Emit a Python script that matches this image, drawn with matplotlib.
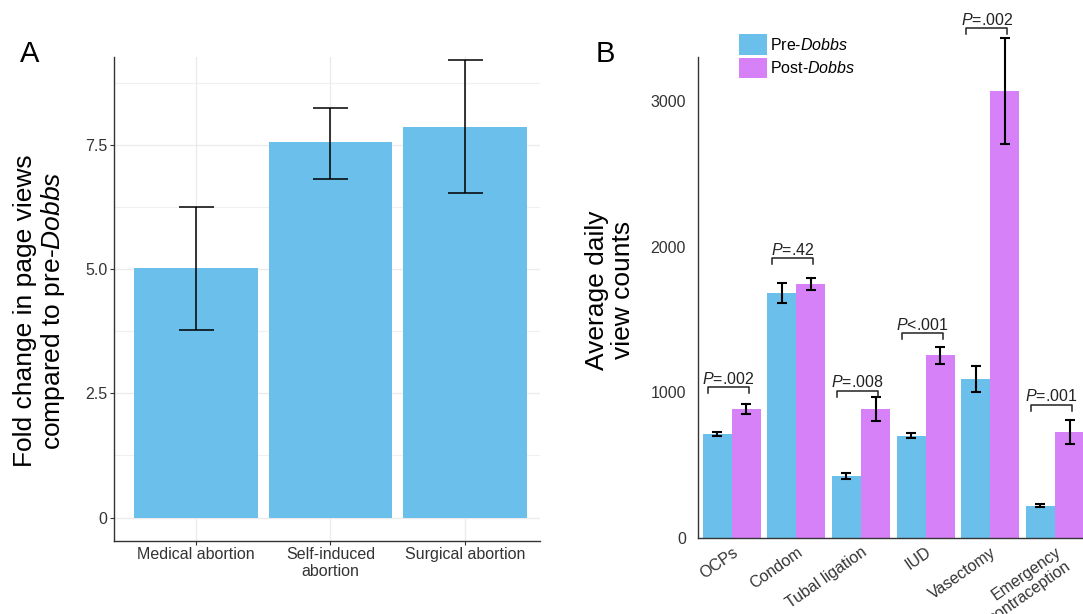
import matplotlib
matplotlib.use("Agg")
import matplotlib.pyplot as plt
import numpy as np
from matplotlib.ticker import FixedLocator

plt.rcParams['font.family'] = ['Liberation Sans', 'DejaVu Sans']
plt.rcParams['mathtext.fontset'] = 'custom'
plt.rcParams['mathtext.rm'] = 'Liberation Sans'
plt.rcParams['mathtext.it'] = 'Liberation Sans:italic'

# ---------------- Panel A data ----------------
a_categories = ["Medical abortion", "Self-induced\nabortion", "Surgical abortion"]
a_fold = [5.02, 7.56, 7.87]
a_lower = [3.77, 6.82, 6.53]
a_upper = [6.26, 8.25, 9.21]
a_yticks = [0, 2.5, 5.0, 7.5]
a_yticklabels = ["0", "2.5", "5.0", "7.5"]
a_minor_grid = [1.25, 3.75, 6.25, 8.75]

# ---------------- Panel B data ----------------
b_categories = ["OCPs", "Condom", "Tubal ligation", "IUD", "Vasectomy",
                "Emergency\ncontraception"]
b_pre = [712, 1681, 423, 700, 1090, 220]
b_pre_err = [15, 67, 20, 17, 88, 11]
b_post = [884, 1742, 884, 1252, 3070, 724]
b_post_err = [37, 39, 82, 60, 365, 83]
b_p_labels = ["P=.002", "P=.42", "P=.008", "P<.001", "P=.002", "P=.001"]
b_bracket_y = [1032, 1918, 1007, 1404, 3499, 911]
b_yticks = [0, 1000, 2000, 3000]
b_series = ["Pre-Dobbs", "Post-Dobbs"]

BLUE = "#6BBFEB"
PURPLE = "#D681F8"
DARK = "#333333"

W, H = 1083, 614
fig = plt.figure(figsize=(W / 100, H / 100), dpi=100)


def rect(l, t, r, b):
    return [l / W, 1 - b / H, (r - l) / W, (b - t) / H]


# ================= Panel A =================
axA = fig.add_axes(rect(114, 56.7, 540, 540.7))
xa = np.arange(len(a_categories))
axA.bar(xa, a_fold, width=0.92, color=BLUE, zorder=2)
fold = np.array(a_fold)
yerr = [fold - np.array(a_lower), np.array(a_upper) - fold]
axA.errorbar(xa, a_fold, yerr=yerr, fmt='none', ecolor='black',
             elinewidth=1.1, capsize=12.6, capthick=1.1, zorder=3)
axA.set_xlim(-0.61, 2.56)
axA.set_ylim(-0.467, 9.28)
axA.set_yticks(a_yticks)
axA.set_yticklabels(a_yticklabels)
axA.yaxis.set_minor_locator(FixedLocator(a_minor_grid))
axA.set_xticks(xa)
axA.set_xticklabels(a_categories, linespacing=1.15)
axA.set_axisbelow(True)
axA.grid(True, which='major', color='#EBEBEB', lw=1.0)
axA.grid(True, which='minor', axis='y', color='#F0F0F0', lw=0.8)
for s in ['top', 'right']:
    axA.spines[s].set_visible(False)
for s in ['left', 'bottom']:
    axA.spines[s].set_color(DARK)
    axA.spines[s].set_linewidth(1.0)
axA.tick_params(axis='both', which='major', length=2.75, width=0.8,
                color=DARK, labelcolor=DARK, labelsize=11.5, pad=2)
axA.tick_params(which='minor', length=0)

fig.text(40 / W, 1 - 311 / H,
         "Fold change in page views\ncompared to pre-$\\mathit{Dobbs}$",
         rotation=90, ha='center', va='center', fontsize=19, linespacing=1.1)
fig.text(20 / W, 1 - 62 / H, "A", fontsize=21, ha='left', va='baseline')

# ================= Panel B =================
axB = fig.add_axes(rect(698.3, 57.3, 1083, 537.7))
xb = np.arange(len(b_categories))
w = 0.45
lab_pre = b_series[0].split('-')[0] + "-$\\mathit{" + b_series[0].split('-')[1] + "}$"
lab_post = b_series[1].split('-')[0] + "-$\\mathit{" + b_series[1].split('-')[1] + "}$"
axB.bar(xb - w / 2, b_pre, w, color=BLUE, label=lab_pre, zorder=2)
axB.bar(xb + w / 2, b_post, w, color=PURPLE, label=lab_post, zorder=2)
for xs, vals, errs in [(xb - w / 2, b_pre, b_pre_err), (xb + w / 2, b_post, b_post_err)]:
    eb = axB.errorbar(xs, vals, yerr=errs, fmt='none', ecolor='black',
                      elinewidth=1.5, capsize=3.5, capthick=1.5, zorder=3)
    for art in eb.get_children():
        art.set_clip_on(False)

axB.set_xlim(-0.517, 5.433)
axB.set_ylim(0, 3300)
axB.set_yticks(b_yticks)
axB.set_yticklabels([str(v) for v in b_yticks])
axB.set_xticks(xb)
axB.set_xticklabels(b_categories, rotation=35, ha='right', va='top',
                    rotation_mode='anchor', linespacing=1.2)
for s in ['top', 'right']:
    axB.spines[s].set_visible(False)
for s in ['left', 'bottom']:
    axB.spines[s].set_color(DARK)
    axB.spines[s].set_linewidth(1.0)
axB.tick_params(axis='y', length=0, labelsize=11.5, labelcolor=DARK, pad=8.9)
axB.tick_params(axis='x', length=0, labelsize=11.5, labelcolor=DARK, pad=5)

# significance brackets
for i, (lab, yb) in enumerate(zip(b_p_labels, b_bracket_y)):
    x0, x1 = i - 0.37, i + 0.26
    hh = 40
    axB.plot([x0, x0, x1, x1], [yb - hh, yb, yb, yb - hh], color='#222222',
             lw=1.1, clip_on=False, zorder=4)
    txt = "$\\mathit{P}$" + lab[1:]
    axB.annotate(txt, xy=((x0 + x1) / 2, yb), xytext=(0, 0.5),
                 textcoords='offset points', ha='center', va='bottom',
                 fontsize=11.5, color='#222222', annotation_clip=False)

axB.legend(loc='upper left', bbox_to_anchor=(739 / W, 1 - 34 / H),
           bbox_transform=fig.transFigure, frameon=False, fontsize=11.5,
           handlelength=1.75, handleheight=1.63, handletextpad=0.2,
           labelspacing=0.17, borderpad=0, borderaxespad=0)

fig.text(610 / W, 1 - 290 / H, "Average daily\nview counts",
         rotation=90, ha='center', va='center', fontsize=19, linespacing=1.1)
fig.text(596 / W, 1 - 62 / H, "B", fontsize=21, ha='left', va='baseline')

fig.savefig("out.png", dpi=100)
